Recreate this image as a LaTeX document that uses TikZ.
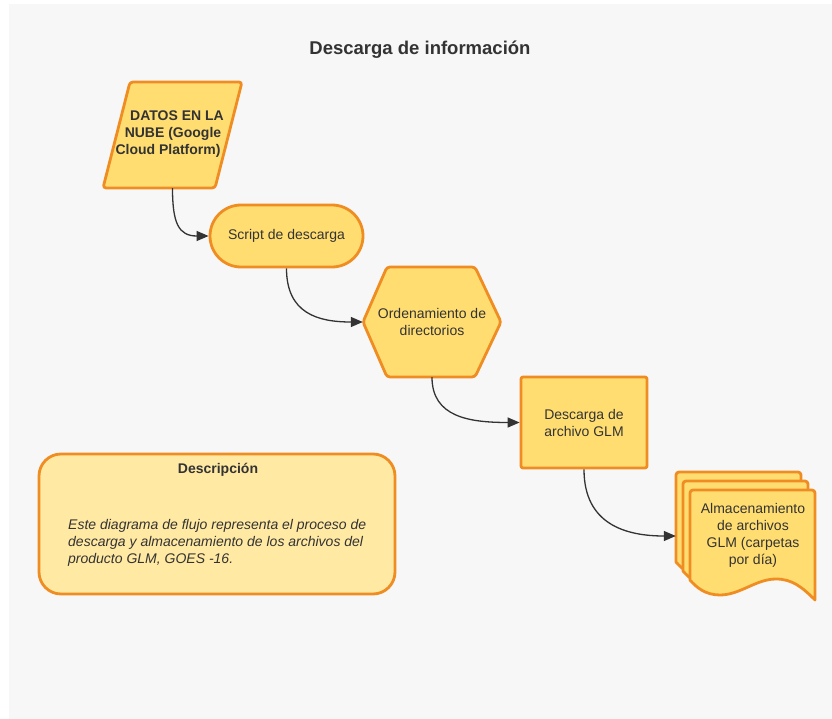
\documentclass[tikz,border=0pt]{standalone}
\usepackage{fontspec}
\setmainfont{Liberation Sans}
\usetikzlibrary{arrows.meta}
\definecolor{bgc}{HTML}{F7F7F7}
\definecolor{yel}{HTML}{FFDD71}
\definecolor{ylight}{HTML}{FFE9A3}
\definecolor{org}{HTML}{EF8D22}
\definecolor{txt}{HTML}{333333}
\newcommand\glmdoc[2]{%
  \draw[shapestyle] (#1,#2+90) [rounded corners=3pt] -- (#1,#2) -- (#1+125,#2) [sharp corners] -- (#1+125,#2+110)
    .. controls (#1+112,#2+97) and (#1+102,#2+89) .. (#1+86,#2+89)
    .. controls (#1+66,#2+89) and (#1+50,#2+105) .. (#1+30,#2+105)
    .. controls (#1+15,#2+105) and (#1+6,#2+97) .. (#1,#2+90) -- cycle;}
\begin{document}
\begin{tikzpicture}[x=1pt,y=-1pt,
  shapestyle/.style={fill=yel, draw=org, line width=2.8pt, line join=round},
  lbl/.style={text=txt, font=\fontsize{14}{17}\selectfont, align=center, inner sep=0pt},
  flow/.style={draw=txt, line width=1.3pt, -{Triangle[length=12pt,width=10pt]}},
  ]
\useasboundingbox (0,0) rectangle (832,719);
\fill[white] (0,0) rectangle (832,719);
\fill[bgc] (9,4) rectangle (832,719);

\node[text=txt, font=\fontsize{18.5}{22}\selectfont\bfseries, inner sep=0pt] (title) at (420,50) {Descarga de información};

% parallelogram
\draw[shapestyle, rounded corners=3pt] (103,188) -- (130,82) -- (242,82) -- (215,188) -- cycle;
\node[lbl, minimum width=139pt, minimum height=106pt] (cloud) at (172.5,135) {};
\node[lbl, font=\fontsize{14}{17}\selectfont\bfseries] (cloudlbl) at (173,134) {\hspace*{8pt}DATOS EN LA\\NUBE (Google\\Cloud Platform)\hspace*{10pt}};

% stadium
\node[shapestyle, lbl, rounded corners=31pt, minimum width=153pt, minimum height=62pt] (script) at (286.5,236) {Script de descarga};

% hexagon
\draw[shapestyle, rounded corners=3pt] (363,322) -- (387,267) -- (475,267) -- (501,322) -- (475,377) -- (387,377) -- cycle;
\node[lbl, minimum width=138pt, minimum height=110pt] (hex) at (432,322) {Ordenamiento de\\directorios};

% rectangle
\node[shapestyle, lbl, rounded corners=2pt, minimum width=126pt, minimum height=91pt] (glm) at (584,422.5) {Descarga de\\archivo GLM};

% multi-document
\glmdoc{676}{472}
\glmdoc{683}{481}
\glmdoc{690}{490}
\node[inner sep=0pt, minimum width=139pt, minimum height=128pt] (store) at (745.5,536) {};
\node[lbl] (storelbl) at (753,535) {Almacenamiento\\de archivos\\GLM (carpetas\\por día)};

% description
\node[fill=ylight, draw=org, line width=2.8pt, rounded corners=22pt, minimum width=356pt, minimum height=140pt] (desc) at (217,524) {};
\node[lbl, font=\fontsize{14}{17}\selectfont\bfseries] (desctitle) at (218,470) {Descripción};
\node[lbl, align=left, anchor=west, font=\fontsize{14}{17}\selectfont\itshape] (descbody) at (68,543) {Este diagrama de flujo representa el proceso de\\descarga y almacenamiento de los archivos del\\producto GLM, GOES -16.};

% connectors
\draw[flow] (cloud.south) .. controls +(0,35) and +(-30,0) .. (script.west);
\draw[flow] (script.south) .. controls +(0,45) and +(-45,0) .. (hex.west);
\draw[flow] (hex.south) .. controls +(0,40) and +(-50,0) .. (glm.west);
\draw[flow] (glm.south) .. controls +(0,55) and +(-50,0) .. (store.west);
\end{tikzpicture}
\end{document}
